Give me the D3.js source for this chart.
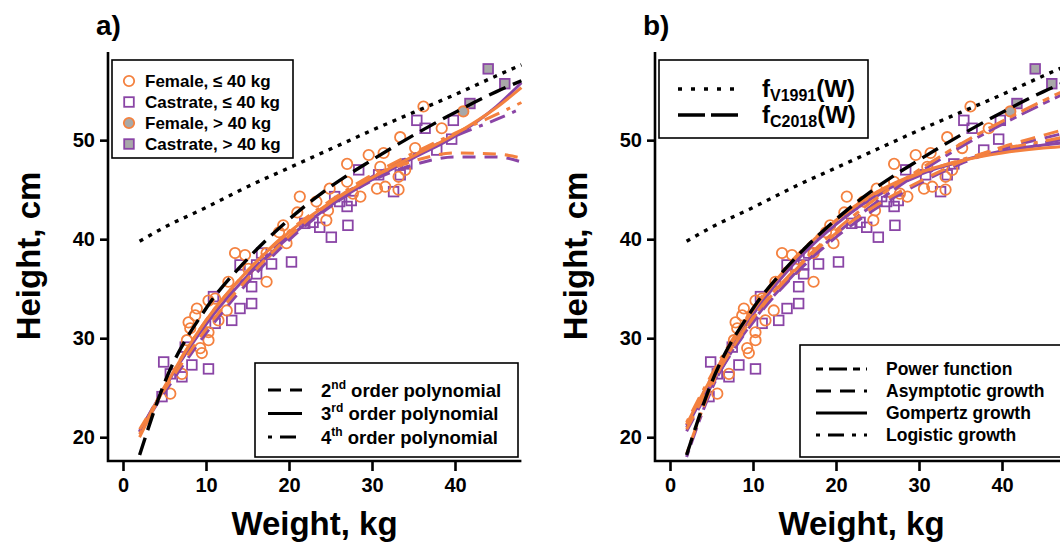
<!DOCTYPE html>
<html><head><meta charset="utf-8">
<script src="https://cdn.jsdelivr.net/npm/d3@7"></script>
<style>
html,body{margin:0;padding:0;background:#fff;}
svg{display:block;font-family:"Liberation Sans",Arial,sans-serif;font-weight:bold;}
</style></head>
<body>
<svg id="chart" width="1060" height="545"></svg>
<script>
// ---------- data ----------
const xTicks = [0, 10, 20, 30, 40];
const yTicks = [20, 30, 40, 50];

const femaleW = [5.7,7.1,7.7,7.9,8.1,8.7,8.9,9.3,9.5,10.3,10.3,10.3,11.1,11.5,12.5,12.7,13.5,14.7,15.1,17.3,17.3,18.8,19.3,19.7,21.0,21.3,23.3,24.5,24.7,24.9,27.0,27.0,27.7,28.6,29.6,30.6,31.0,31.4,31.6,33.2,33.2,33.4,34.0,35.2,36.2,38.4];
const femaleH = [24.4,26.4,29.8,31.6,31.0,32.3,33.0,29.0,28.5,33.8,30.6,29.8,34.0,31.8,32.8,35.7,38.6,38.4,37.0,38.6,35.7,40.7,41.4,39.6,42.7,44.3,43.8,41.9,42.9,45.1,47.6,45.8,44.6,44.3,48.5,45.1,47.3,48.7,45.3,46.3,45.0,50.3,47.0,49.2,53.4,51.2];
const femaleHeavyW = [41.0];
const femaleHeavyH = [52.9];

const castrateW = [4.7,4.9,5.7,7.1,7.5,8.3,10.3,10.9,11.1,13.1,14.1,14.1,15.5,15.5,16.1,16.1,16.7,17.9,20.3,21.9,22.9,23.7,25.1,25.5,26.1,27.0,27.1,27.5,28.4,30.8,32.6,33.4,34.2,35.4,36.4,37.8,39.6,39.8];
const castrateH = [24.1,27.6,26.4,26.1,29.1,27.3,26.9,34.2,31.5,31.8,33.0,37.4,35.2,33.5,37.4,36.5,38.6,37.5,37.7,41.6,41.7,41.2,40.2,44.3,43.8,43.3,41.4,43.9,47.0,46.5,44.8,46.5,47.6,52.0,51.2,49.0,50.1,52.0];
const castrateHeavyW = [41.8,44.0,46.0];
const castrateHeavyH = [53.7,57.2,55.7];

// fitted curves, read at these weights
const curveW = [2,5,10,15,20,25,30,35,40,45,48];
const v1991H = [39.8,41.2,43.2,45.3,47.2,49.1,51.0,52.8,54.6,56.5,57.6];
const c2018H = [18.2,25.5,33.0,38.0,42.0,45.3,48.0,50.5,52.8,54.9,56.0];
// panel a
const poly2F = [20.8,24.8,30.9,36.0,40.3,43.7,46.3,47.9,48.7,48.6,48.2];
const poly2C = [20.6,24.5,30.5,35.6,39.9,43.3,45.9,47.5,48.3,48.3,47.8];
const poly3F = [20.0,25.0,31.8,36.8,40.7,43.7,46.2,48.4,50.6,53.3,55.3];
const poly3C = [20.5,25.0,31.4,36.3,40.2,43.4,46.0,48.2,50.4,53.4,55.8];
const poly4F = [20.3,25.1,31.8,36.8,40.8,43.9,46.5,48.7,50.7,52.6,53.8];
const poly4C = [20.6,25.0,31.5,36.4,40.4,43.6,46.3,48.5,50.4,52.1,53.2];
// panel b
const powerF = [18.3,25.1,32.1,36.9,40.9,44.2,47.0,49.6,51.9,54.0,55.2];
const powerC = [18.0,24.8,31.7,36.5,40.5,43.8,46.7,49.3,51.6,53.7,54.9];
const asymF  = [20.8,25.5,32.0,36.8,40.6,43.5,45.8,47.8,49.3,50.5,51.2];
const asymC  = [20.6,25.2,31.6,36.4,40.2,43.2,45.6,47.6,49.1,50.2,50.8];
const gompF  = [21.3,26.0,32.8,38.0,41.9,44.8,46.7,47.9,48.7,49.2,49.4];
const gompC  = [21.0,25.7,32.4,37.6,41.5,44.5,46.5,47.9,48.9,49.5,49.8];
const logF   = [21.5,26.3,33.0,38.1,41.9,44.7,46.6,48.0,49.1,49.9,50.4];
const logC   = [21.2,26.0,32.6,37.7,41.6,44.4,46.4,47.9,48.9,49.7,50.2];

// ---------- styles ----------
const ORANGE = "#f4813f";
const PURPLE = "#8a45a6";
const GRAY = "#a8a8a8";
const DASH = {solid:null, dashed:"13,9", dotdash:"4,8,16,8", twodash:"7,6,18,6", asym:"15,9", dotted:"4,6", long:"18,8"};

const svg = d3.select("#chart");
svg.append("rect").attr("width",1060).attr("height",545).attr("fill","#fff");

function zip(ws, hs){ return ws.map((w,i)=>({w:w,h:hs[i]})); }

function panel(off, label, curves){
  const g = svg.append("g");
  const x = d3.scaleLinear().domain([0,48]).range([123+off, 521.4+off]);
  const y = d3.scaleLinear().domain([17.7,58.7]).range([460,54]);

  // axes
  const ya = g.append("g").attr("transform",`translate(${108+off},0)`)
    .call(d3.axisLeft(y).tickValues(yTicks).tickSize(8).tickSizeOuter(0).tickPadding(5));
  const xa = g.append("g").attr("transform",`translate(0,461)`)
    .call(d3.axisBottom(x).tickValues(xTicks).tickSize(10).tickSizeOuter(0).tickPadding(7));
  [ya,xa].forEach(a=>{
    a.select(".domain").remove();
    a.selectAll(".tick line").attr("stroke","#000").attr("stroke-width",2.6);
    a.selectAll(".tick text").attr("fill","#000").attr("font-size",20)
      .attr("font-family",'"Liberation Sans",Arial,sans-serif').attr("font-weight","bold");
  });
  g.append("path").attr("d",`M${108+off},52V461H${521.4+off}`)
    .attr("fill","none").attr("stroke","#000").attr("stroke-width",2.6);

  g.append("text").attr("x",314.5+off).attr("y",535).attr("text-anchor","middle")
    .attr("font-size",33).text("Weight, kg");
  g.append("text").attr("transform",`translate(${40+off},256) rotate(-90)`).attr("text-anchor","middle")
    .attr("font-size",33).text("Height, cm");
  g.append("text").attr("x",96+off).attr("y",35).attr("font-size",28).text(label);

  // points
  const pts = g.append("g");
  const S = 9.6;
  pts.selectAll(".sq").data(zip(castrateW,castrateH)).join("rect")
    .attr("x",d=>x(d.w)-S/2).attr("y",d=>y(d.h)-S/2).attr("width",S).attr("height",S)
    .attr("fill","none").attr("stroke",PURPLE).attr("stroke-width",1.8);
  pts.selectAll(".ci").data(zip(femaleW,femaleH)).join("circle")
    .attr("cx",d=>x(d.w)).attr("cy",d=>y(d.h)).attr("r",5.2)
    .attr("fill","none").attr("stroke",ORANGE).attr("stroke-width",1.8);
  pts.selectAll(".sqh").data(zip(castrateHeavyW,castrateHeavyH)).join("rect")
    .attr("x",d=>x(d.w)-S/2).attr("y",d=>y(d.h)-S/2).attr("width",S).attr("height",S)
    .attr("fill",GRAY).attr("stroke",PURPLE).attr("stroke-width",1.8);
  pts.selectAll(".cih").data(zip(femaleHeavyW,femaleHeavyH)).join("circle")
    .attr("cx",d=>x(d.w)).attr("cy",d=>y(d.h)).attr("r",5.2)
    .attr("fill",GRAY).attr("stroke",ORANGE).attr("stroke-width",1.8);

  // curves
  const line = d3.line().x(d=>x(d.w)).y(d=>y(d.h)).curve(d3.curveMonotoneX);
  curves.forEach(c=>{
    g.append("path").datum(zip(curveW,c.h)).attr("d",line)
      .attr("fill","none").attr("stroke",c.color).attr("stroke-width",c.width||3)
      .attr("stroke-dasharray",c.dash).attr("stroke-linecap","butt");
  });
  return {g,x,y};
}

const pa = panel(0,"a)",[
  {h:poly2C,color:PURPLE,dash:DASH.dashed},
  {h:poly3C,color:PURPLE,dash:DASH.solid},
  {h:poly4C,color:PURPLE,dash:DASH.dotdash},
  {h:poly2F,color:ORANGE,dash:DASH.dashed},
  {h:poly3F,color:ORANGE,dash:DASH.solid},
  {h:poly4F,color:ORANGE,dash:DASH.dotdash},
  {h:c2018H,color:"#000",dash:DASH.long,width:3.4},
  {h:v1991H,color:"#000",dash:DASH.dotted,width:3.4}
]);
const pb = panel(547,"b)",[
  {h:powerC,color:PURPLE,dash:DASH.twodash},
  {h:asymC,color:PURPLE,dash:DASH.asym},
  {h:gompC,color:PURPLE,dash:DASH.solid},
  {h:logC,color:PURPLE,dash:DASH.dotdash},
  {h:powerF,color:ORANGE,dash:DASH.twodash},
  {h:asymF,color:ORANGE,dash:DASH.asym},
  {h:gompF,color:ORANGE,dash:DASH.solid},
  {h:logF,color:ORANGE,dash:DASH.dotdash},
  {h:c2018H,color:"#000",dash:DASH.long,width:3.4},
  {h:v1991H,color:"#000",dash:DASH.dotted,width:3.4}
]);

// ---------- legends ----------
function box(x0,y0,x1,y1){
  svg.append("rect").attr("x",x0).attr("y",y0).attr("width",x1-x0).attr("height",y1-y0)
    .attr("fill","#fff").attr("stroke","#000").attr("stroke-width",1.6);
}
// panel a, markers
box(112,60,293,158);
const markerLegend = [
  {t:"Female, ≤ 40 kg", shape:"c", fill:"none", stroke:ORANGE},
  {t:"Castrate, ≤ 40 kg", shape:"s", fill:"none", stroke:PURPLE},
  {t:"Female, > 40 kg", shape:"c", fill:GRAY, stroke:ORANGE},
  {t:"Castrate, > 40 kg", shape:"s", fill:GRAY, stroke:PURPLE}
];
markerLegend.forEach((m,i)=>{
  const cy = 81 + i*21;
  if(m.shape==="c") svg.append("circle").attr("cx",129).attr("cy",cy).attr("r",5.2)
      .attr("fill",m.fill).attr("stroke",m.stroke).attr("stroke-width",1.8);
  else svg.append("rect").attr("x",129-4.8).attr("y",cy-4.8).attr("width",9.6).attr("height",9.6)
      .attr("fill",m.fill).attr("stroke",m.stroke).attr("stroke-width",1.8);
  svg.append("text").attr("x",145).attr("y",cy+6).attr("font-size",17).text(m.t);
});

// panel a, polynomial orders
box(255,363,518,457);
const polyLegend = [
  {n:"2", sup:"nd", dash:DASH.dashed},
  {n:"3", sup:"rd", dash:DASH.solid},
  {n:"4", sup:"th", dash:DASH.dotdash}
];
polyLegend.forEach((p,i)=>{
  const cy = 390 + i*23.5;
  svg.append("line").attr("x1",268).attr("x2",302).attr("y1",cy).attr("y2",cy)
    .attr("stroke","#000").attr("stroke-width",3).attr("stroke-dasharray",p.dash);
  const t = svg.append("text").attr("x",321).attr("y",cy+6.5).attr("font-size",18.5);
  t.append("tspan").text(p.n);
  t.append("tspan").attr("font-size",12).attr("dy",-8).text(p.sup);
  t.append("tspan").attr("dy",8).text(" order polynomial");
});

// panel b, reference functions
box(659,60,868,138);
const refLegend = [
  {f:"f", sub:"V1991", tail:"(W)", dash:"4,9", y:97},
  {f:"f", sub:"C2018", tail:"(W)", dash:"27,6", y:123}
];
refLegend.forEach(r=>{
  svg.append("line").attr("x1",678).attr("x2",739).attr("y1",r.y-8).attr("y2",r.y-8)
    .attr("stroke","#000").attr("stroke-width",3.4).attr("stroke-dasharray",r.dash);
  const t = svg.append("text").attr("x",762).attr("y",r.y).attr("font-size",24);
  t.append("tspan").text(r.f);
  t.append("tspan").attr("font-size",16).attr("dy",4).text(r.sub);
  t.append("tspan").attr("dy",-4).text(r.tail);
});

// panel b, model types
box(800,345,1075,457);
const modelLegend = [
  {t:"Power function", dash:DASH.twodash},
  {t:"Asymptotic growth", dash:DASH.asym},
  {t:"Gompertz growth", dash:DASH.solid},
  {t:"Logistic growth", dash:DASH.dotdash}
];
modelLegend.forEach((m,i)=>{
  const cy = 369 + i*22;
  svg.append("line").attr("x1",816).attr("x2",867).attr("y1",cy).attr("y2",cy)
    .attr("stroke","#000").attr("stroke-width",3).attr("stroke-dasharray",m.dash);
  svg.append("text").attr("x",886).attr("y",cy+6).attr("font-size",17.5).text(m.t);
});
</script>
</body></html>
